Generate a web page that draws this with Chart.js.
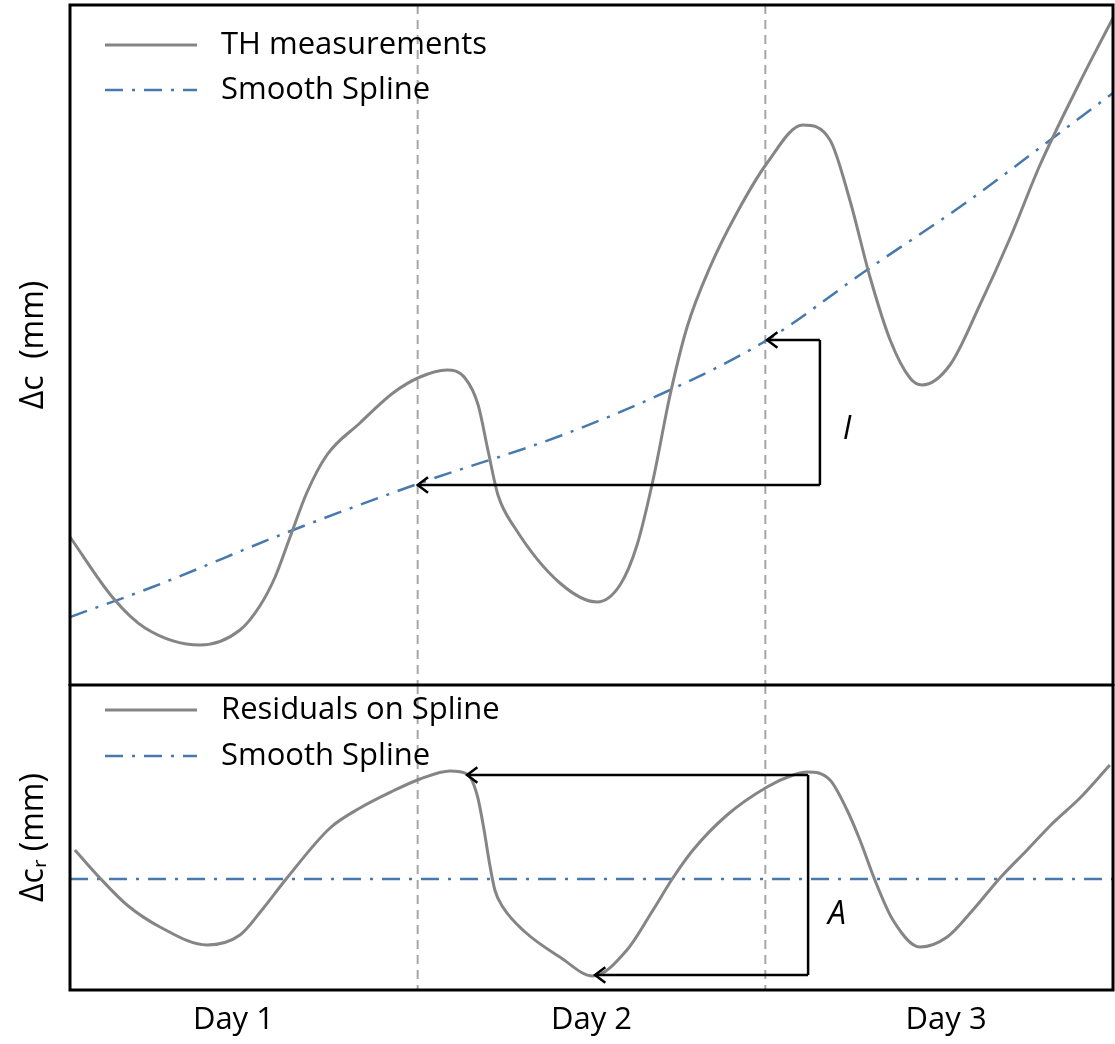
<!DOCTYPE html>
<html>
<head>
<meta charset="utf-8">
<script src="https://cdn.jsdelivr.net/npm/chart.js@4.4.0/dist/chart.umd.min.js"></script>
<style>
body { margin: 0; background: #fff; }
#top { position: absolute; left: 0; top: 0; width: 1115px; height: 686px; }
#bottom { position: absolute; left: 0; top: 684px; width: 1115px; height: 360px; }
</style>
</head>
<body>
<div id="top"><canvas id="topChart"></canvas></div>
<div id="bottom"><canvas id="bottomChart"></canvas></div>
<script>
// x in days, y in mm (arbitrary offset)
var thX = [0, 0.124, 0.216, 0.374, 0.489, 0.546, 0.590, 0.633, 0.682, 0.739, 0.834, 0.929, 1.007, 1.084, 1.136, 1.174, 1.202, 1.231,
           1.280, 1.409, 1.516, 1.582, 1.631, 1.677, 1.726, 1.775, 1.841, 1.918, 2.005, 2.108, 2.186, 2.243, 2.301, 2.359, 2.416,
           2.451, 2.531, 2.617, 2.704, 2.790, 2.905, 3.0];
var thY = [14.8, 8.7, 5.7, 4.0, 5.5, 7.9, 10.8, 14.8, 19.3, 23.0, 26.2, 29.2, 30.8, 31.5, 30.7, 28.0, 23.5, 19.0,
           15.7, 10.2, 8.3, 10.0, 14.0, 20.5, 29.0, 35.8, 41.8, 47.2, 52.2, 56.0, 54.5, 48.5, 40.8, 34.5, 30.7,
           30.0, 32.0, 38.0, 44.7, 52.0, 60.3, 66.7];

var splineX = [0, 0.230, 0.627, 1.007, 1.409, 1.726, 2.005, 2.292, 2.580, 2.827, 3.0];
var splineY = [6.8, 9.7, 15.3, 20.2, 24.9, 29.5, 34.5, 41.5, 48.3, 54.7, 59.2];

var resX = [0.014, 0.086, 0.164, 0.259, 0.394, 0.489, 0.552, 0.624, 0.748, 0.834, 0.929, 1.007, 1.093, 1.142, 1.171, 1.191, 1.205, 1.222,
            1.245, 1.309, 1.409, 1.504, 1.602, 1.677, 1.734, 1.792, 1.890, 2.005, 2.080, 2.120, 2.186, 2.235, 2.272, 2.315, 2.367,
            2.445, 2.523, 2.597, 2.675, 2.753, 2.827, 2.905, 2.991];
var resY = [2.9, 0.1, -2.6, -4.8, -6.6, -5.6, -3.1, 0.1, 5.1, 7.1, 8.8, 10.0, 10.8, 10.5, 8.4, 4.9, 1.9, -1.1,
            -2.8, -5.3, -7.8, -9.7, -7.1, -3.1, 0.1, 2.9, 6.4, 9.2, 10.4, 10.7, 9.9, 6.9, 3.9, -0.1, -4.1,
            -6.8, -5.8, -3.1, 0.1, 2.9, 5.6, 8.1, 11.4];

var flatX = [0, 3];
var flatY = [0, 0];

var dayTicks = [0.47, 1.5, 2.52];
var dayLabels = ['Day 1', 'Day 2', 'Day 3'];
var dayBounds = [1, 2];

// annotation arrows: [fromX, fromY, toX, toY]
var topArrows = [[2.157, 20, 1.0, 20], [2.157, 34.5, 2.005, 34.5]];
var topLinks = [[2.157, 20, 2.157, 34.5]];
var bottomArrows = [[2.123, 10.4, 1.142, 10.4], [2.123, -9.6, 1.51, -9.6]];
var bottomLinks = [[2.123, 10.4, 2.123, -9.6]];

var FONT = '"Open Sans", "Noto Sans", sans-serif';
var GREY = '#858585';
var BLUE = '#4779ad';

function pts(xs, ys) {
    return xs.map(function (x, i) { return { x: x, y: ys[i] }; });
}

function arrow(ctx, x1, y1, x2, y2) {
    ctx.beginPath();
    ctx.moveTo(x1, y1);
    ctx.lineTo(x2, y2);
    ctx.stroke();
    var a = Math.atan2(y2 - y1, x2 - x1);
    ctx.beginPath();
    ctx.moveTo(x2 - 13 * Math.cos(a - 0.65), y2 - 13 * Math.sin(a - 0.65));
    ctx.lineTo(x2, y2);
    ctx.lineTo(x2 - 13 * Math.cos(a + 0.65), y2 - 13 * Math.sin(a + 0.65));
    ctx.stroke();
}

var extras = {
    id: 'extras',
    beforeDatasetsDraw: function (chart, args, opts) {
        var ctx = chart.ctx, xs = chart.scales.x, a = chart.chartArea;
        ctx.save();
        ctx.strokeStyle = '#a6a6a6';
        ctx.lineWidth = 2;
        ctx.setLineDash([9, 6]);
        dayBounds.forEach(function (d) {
            var px = xs.getPixelForValue(d);
            ctx.beginPath();
            ctx.moveTo(px, a.top);
            ctx.lineTo(px, a.bottom);
            ctx.stroke();
        });
        ctx.restore();
    },
    afterDatasetsDraw: function (chart, args, opts) {
        var ctx = chart.ctx, xs = chart.scales.x, ys = chart.scales.y, a = chart.chartArea;
        ctx.save();
        ctx.strokeStyle = '#000';
        ctx.lineWidth = 2.5;
        ctx.lineJoin = 'miter';
        opts.links.forEach(function (l) {
            ctx.beginPath();
            ctx.moveTo(xs.getPixelForValue(l[0]), ys.getPixelForValue(l[1]));
            ctx.lineTo(xs.getPixelForValue(l[2]), ys.getPixelForValue(l[3]));
            ctx.stroke();
        });
        opts.arrows.forEach(function (l) {
            arrow(ctx, xs.getPixelForValue(l[0]), ys.getPixelForValue(l[1]),
                  xs.getPixelForValue(l[2]), ys.getPixelForValue(l[3]));
        });
        // italic letter
        ctx.fillStyle = '#000';
        ctx.font = 'italic 32px ' + FONT;
        ctx.textAlign = 'left';
        ctx.textBaseline = 'middle';
        ctx.fillText(opts.label.text, xs.getPixelForValue(opts.label.x), ys.getPixelForValue(opts.label.y));

        // legend inside the plot
        chart.data.datasets.forEach(function (ds, i) {
            var y = a.top + opts.legendRows[i];
            ctx.strokeStyle = ds.borderColor;
            ctx.lineWidth = ds.borderWidth;
            ctx.setLineDash(ds.borderDash || []);
            ctx.beginPath();
            ctx.moveTo(a.left + 35, y);
            ctx.lineTo(a.left + 127, y);
            ctx.stroke();
            ctx.setLineDash([]);
            ctx.fillStyle = '#000';
            ctx.font = '31px ' + FONT;
            ctx.fillText(ds.label, a.left + 151, y);
        });

        // frame
        ctx.strokeStyle = '#000';
        ctx.lineWidth = 3;
        ctx.strokeRect(a.left, a.top, a.right - a.left, a.bottom - a.top);
        ctx.restore();
    }
};

function baseOptions() {
    return {
        responsive: true,
        maintainAspectRatio: false,
        animation: false,
        events: [],
        plugins: { legend: { display: false }, tooltip: { enabled: false } },
        elements: { point: { radius: 0 }, line: { cubicInterpolationMode: 'monotone', capBezierPoints: false } }
    };
}

var topOpts = baseOptions();
topOpts.layout = { padding: { top: 5, right: 2, bottom: 1, left: 0 } };
topOpts.scales = {
    x: { type: 'linear', min: 0, max: 3, display: false },
    y: {
        min: 0, max: 68,
        grid: { display: false }, border: { display: false },
        ticks: { display: false },
        title: { display: true, text: 'Δc  (mm)', color: '#000', font: { family: FONT, size: 32 }, padding: { top: 15, bottom: 0 } },
        afterFit: function (s) { s.width = 70; }
    }
};
topOpts.plugins.extras = { arrows: topArrows, links: topLinks, label: { x: 2.223, y: 25.5, text: 'I' }, legendRows: [40, 85] };

new Chart(document.getElementById('topChart'), {
    type: 'line',
    data: {
        datasets: [
            { label: 'TH measurements', data: pts(thX, thY), borderColor: GREY, borderWidth: 3, fill: false },
            { label: 'Smooth Spline', data: pts(splineX, splineY), borderColor: BLUE, borderWidth: 2.5, borderDash: [18, 9, 3, 9], fill: false }
        ]
    },
    options: topOpts,
    plugins: [extras]
});

var botOpts = baseOptions();
botOpts.layout = { padding: { top: 1, right: 2, bottom: 0, left: 0 } };
botOpts.scales = {
    x: {
        type: 'linear', min: 0, max: 3,
        grid: { display: false, drawTicks: false }, border: { display: false },
        afterBuildTicks: function (s) { s.ticks = dayTicks.map(function (v) { return { value: v }; }); },
        ticks: {
            color: '#000', padding: 12, font: { family: FONT, size: 31 }, maxRotation: 0, autoSkip: false,
            callback: function (v) { return dayLabels[dayTicks.indexOf(v)]; }
        },
        afterFit: function (s) { s.height = 54; }
    },
    y: {
        min: -11.1, max: 19.4,
        grid: { display: false }, border: { display: false },
        ticks: { display: false },
        title: { display: true, text: 'Δcᵣ (mm)', color: '#000', font: { family: FONT, size: 32 }, padding: { top: 15, bottom: 0 } },
        afterFit: function (s) { s.width = 70; }
    }
};
botOpts.plugins.extras = { arrows: bottomArrows, links: bottomLinks, label: { x: 2.18, y: -3.6, text: 'A' }, legendRows: [25, 71] };

new Chart(document.getElementById('bottomChart'), {
    type: 'line',
    data: {
        datasets: [
            { label: 'Residuals on Spline', data: pts(resX, resY), borderColor: GREY, borderWidth: 3, fill: false },
            { label: 'Smooth Spline', data: pts(flatX, flatY), borderColor: BLUE, borderWidth: 2.5, borderDash: [18, 9, 3, 9], fill: false }
        ]
    },
    options: botOpts,
    plugins: [extras]
});
</script>
</body>
</html>
